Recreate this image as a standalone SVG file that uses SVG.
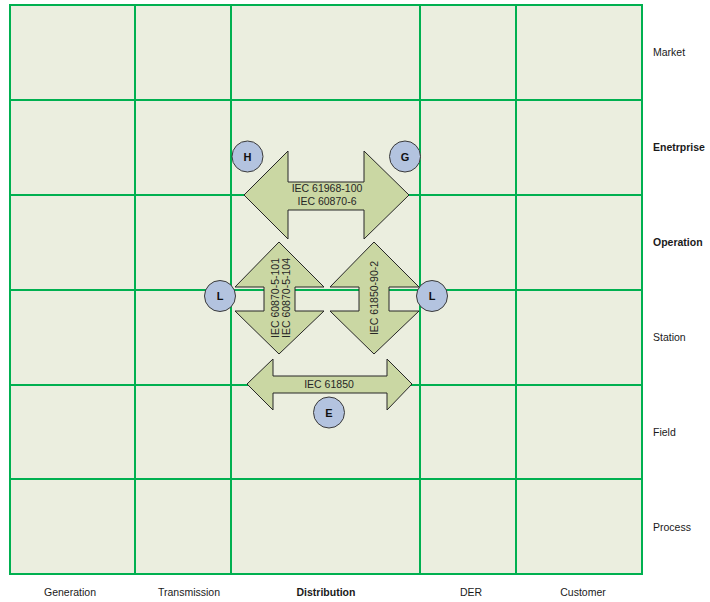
<svg xmlns="http://www.w3.org/2000/svg" width="710" height="602" viewBox="0 0 710 602">
<style>
.lbl{font-family:"Liberation Sans",Arial,sans-serif;font-size:10.5px;fill:#1a1a1a}
.b{font-weight:bold}
.grid{stroke:#00B050;stroke-width:2;fill:none}
.arr{fill:#CAD7A3;stroke:#262626;stroke-width:1}
.atxt{font-family:"Liberation Sans",Arial,sans-serif;font-size:10.5px;fill:#262626;text-anchor:middle}
.circ{fill:#B3C3DF;stroke:#3a3a3a;stroke-width:1}
.ctxt{font-family:"Liberation Sans",Arial,sans-serif;font-size:11px;font-weight:bold;fill:#111;text-anchor:middle}
</style>
<rect width="710" height="602" fill="#ffffff"/>
<g id="grid">
<rect x="10" y="5" width="632" height="569" fill="#EBEEDF"/>
<path class="grid" d="M10,5H642V574H10Z M135,5V574 M231,5V574 M420,5V574 M516,5V574 M10,100H642 M10,195H642 M10,290H642 M10,385H642 M10,479H642"/>
</g>
<g id="row-labels" class="lbl">
<text x="653" y="56">Market</text>
<text x="653" y="151" class="b">Enetrprise</text>
<text x="653" y="246" class="b">Operation</text>
<text x="653" y="341">Station</text>
<text x="653" y="436">Field</text>
<text x="653" y="531">Process</text>
</g>
<g id="col-labels" class="lbl" text-anchor="middle">
<text x="70" y="596">Generation</text>
<text x="189" y="596">Transmission</text>
<text x="326" y="596" class="b">Distribution</text>
<text x="471" y="596">DER</text>
<text x="583" y="596">Customer</text>
</g>
<g id="connectors">
<g id="arrow-enterprise-operation">
<polygon class="arr" points="244,195 288,151 288,182 364,182 364,151 409,195 364,239 364,210 288,210 288,239"/>
<text class="atxt" x="327" y="191.5">IEC 61968-100</text>
<text class="atxt" x="327" y="204.5">IEC 60870-6</text>
</g>
<g id="arrow-left-vertical">
<polygon class="arr" points="279,242 324,287 295,287 295,311 324,311 279,354 235,311 264,311 264,287 235,287"/>
<text class="atxt" transform="translate(278.5,298) rotate(-90)">IEC 60870-5-101</text>
<text class="atxt" transform="translate(290,298) rotate(-90)">IEC 60870-5-104</text>
</g>
<g id="arrow-right-vertical">
<polygon class="arr" points="374,242 419,287 389,287 389,311 419,311 374,354 330,311 359,311 359,287 330,287"/>
<text class="atxt" transform="translate(377.7,298) rotate(-90)">IEC 61850-90-2</text>
</g>
<g id="arrow-field">
<polygon class="arr" points="247,384 273,359 273,376 387,376 387,359 412,384 387,410 387,393 273,393 273,410"/>
<text class="atxt" x="329" y="388">IEC 61850</text>
</g>
</g>
<g id="node-H"><circle class="circ" cx="247.5" cy="156.5" r="15.5"/><text class="ctxt" x="247.5" y="160.5">H</text></g>
<g id="node-G"><circle class="circ" cx="405" cy="156.5" r="15.5"/><text class="ctxt" x="405" y="160.5">G</text></g>
<g id="node-L1"><circle class="circ" cx="220" cy="296" r="15.5"/><text class="ctxt" x="220" y="300">L</text></g>
<g id="node-L2"><circle class="circ" cx="432" cy="296" r="15.5"/><text class="ctxt" x="432" y="300">L</text></g>
<g id="node-E"><circle class="circ" cx="329" cy="412.5" r="15.5"/><text class="ctxt" x="329" y="416.5">E</text></g>
</svg>
